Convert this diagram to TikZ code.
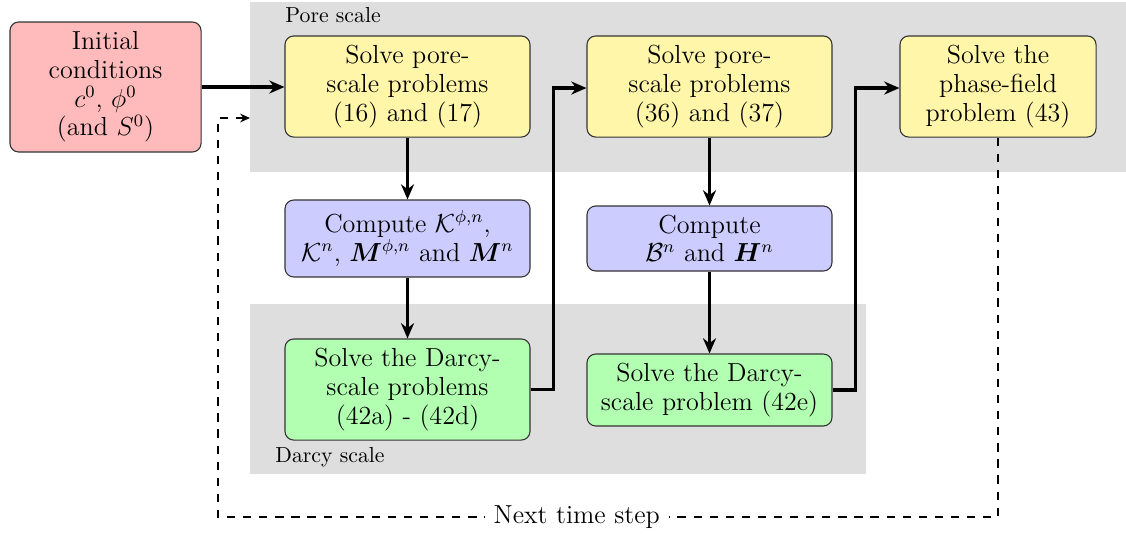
\documentclass[tikz,border=0pt]{standalone}
\usepackage{bm}
\usetikzlibrary{arrows.meta}
\definecolor{initfill}{RGB}{255,187,187}
\definecolor{porefill}{RGB}{255,246,170}
\definecolor{compfill}{RGB}{204,204,255}
\definecolor{darcyfill}{RGB}{178,255,178}
\definecolor{regionfill}{RGB}{222,222,222}
\tikzset{
  box/.style={draw=black!80, line width=0.5pt, rounded corners=4pt,
    align=center, inner sep=0pt, font=\fontsize{12}{13.2}\selectfont},
  initbox/.style={box, fill=initfill},
  porebox/.style={box, fill=porefill},
  compbox/.style={box, fill=compfill},
  darcybox/.style={box, fill=darcyfill},
  region/.style={fill=regionfill, draw=none},
  regionlabel/.style={font=\normalsize, inner sep=0pt},
  flow/.style={line width=1.5pt, -{Stealth[length=7pt,width=6pt]}},
  loopback/.style={line width=0.9pt, dash pattern=on 3.8pt off 3.6pt,
    -{Stealth[length=4.5pt,width=4pt]}},
}
\begin{document}
\begin{tikzpicture}[x=0.46pt, y=-0.46pt]
\useasboundingbox (0,0) rectangle (1126,533);

% shaded scale regions
\fill[region] (250,2) rectangle (1126,172);
\fill[region] (250,304) rectangle (866,474);
\node[regionlabel, anchor=base west] (porelabel) at (285,22.5) {Pore scale};
\node[regionlabel, anchor=base west] (darcylabel) at (275,462) {Darcy scale};

% process boxes
\node[initbox, minimum width=87.9pt, minimum height=59.8pt] (init) at (105.5,87)
  {Initial\\conditions\\$c^0$, $\phi^0$\\(and $S^0$)};

\node[porebox, minimum width=112.7pt, minimum height=46.5pt] (pore1) at (407.5,86.5)
  {Solve pore-\\scale problems\\(16) and (17)};
\node[compbox, minimum width=112.7pt, minimum height=35.4pt] (comp1) at (407.5,238.5)
  {Compute $\mathcal{K}^{\phi,n}$,\\$\mathcal{K}^n$, $\bm{M}^{\phi,n}$ and $\bm{M}^n$};
\node[darcybox, minimum width=112.7pt, minimum height=46.5pt] (darcy1) at (407.5,389.5)
  {Solve the Darcy-\\scale problems\\(42a) - (42d)};

\node[porebox, minimum width=112.7pt, minimum height=46.5pt] (pore2) at (709.5,86.5)
  {Solve pore-\\scale problems\\(36) and (37)};
\node[compbox, minimum width=112.7pt, minimum height=29.9pt] (comp2) at (709.5,238.5)
  {Compute\\$\mathcal{B}^n$ and $\bm{H}^n$};
\node[darcybox, minimum width=112.7pt, minimum height=33.1pt] (darcy2) at (709.5,390)
  {Solve the Darcy-\\scale problem (42e)};

\node[porebox, minimum width=90.2pt, minimum height=46.5pt] (phase) at (998,86.5)
  {Solve the\\phase-field\\problem (43)};

% main flow
\draw[flow] (init.east) -- (init.east -| pore1.west);
\draw[flow] (pore1.south) -- (comp1.north);
\draw[flow] (comp1.south) -- (darcy1.north);
\draw[flow] (darcy1.east) -- ++(23,0) |- ([yshift=-0.7pt]pore2.west);
\draw[flow] (pore2.south) -- (comp2.north);
\draw[flow] (comp2.south) -- (darcy2.north);
\draw[flow] (darcy2.east) -- ++(23,0) |- ([yshift=-0.7pt]phase.west);

% time stepping loop
\coordinate (loopR) at (998,517);
\coordinate (loopL) at (218,517);
\coordinate (loopUp) at (218,118);
\coordinate (loopEnd) at (250,118);
\draw[loopback] (phase.south) -- (loopR)
  -- node[pos=0.54, fill=white, inner sep=4pt, font=\fontsize{12}{13.2}\selectfont] (nextstep) {Next time step} (loopL)
  -- (loopUp) -- (loopEnd);
\end{tikzpicture}
\end{document}
